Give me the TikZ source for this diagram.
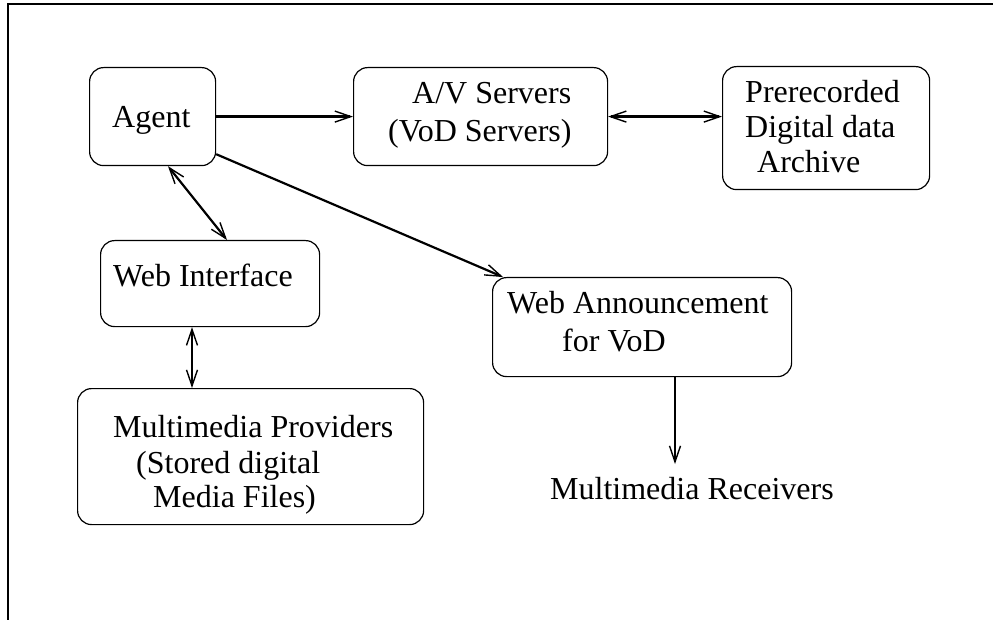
\documentclass[tikz,border=0pt]{standalone}
\usepackage{fontspec}
\setmainfont{Liberation Serif}
\usetikzlibrary{arrows.meta,calc}
\begin{document}
\begin{tikzpicture}[x=1pt,y=-1pt,
  box/.style={draw, line width=1.2, rounded corners=14, anchor=north west, inner sep=0},
  txt/.style={anchor=base west, inner sep=0, font=\fontsize{32}{38}\selectfont},
  tip/.style={Straight Barb[length=16,width=11,line width=1.4]},
  arr/.style={line width=2.2, -{Straight Barb[length=16,width=11,line width=1.4]}},
  darr/.style={line width=2.2, {Straight Barb[length=16,width=11,line width=1.4]}-{Straight Barb[length=16,width=11,line width=1.4]}}]
\useasboundingbox (0,0) rectangle (993,620);
% frame lines
\draw[line width=1.2] (8,620) -- (8,4) -- (993,4);
% boxes
\node[box, minimum width=126, minimum height=98] (agent) at (89,67) {};
\node[box, minimum width=254, minimum height=98] (av) at (353,67) {};
\node[box, minimum width=207, minimum height=123] (pre) at (722,66) {};
\node[box, minimum width=219, minimum height=86] (wi) at (100,240) {};
\node[box, minimum width=346, minimum height=136] (mp) at (77,388) {};
\node[box, minimum width=299, minimum height=99] (wa) at (492,277) {};
% texts
\node[txt] (tagent) at (112,128) {Agent};
\node[txt] (tav1) at (412,104) {A/V Servers};
\node[txt] (tav2) at (388,142) {(VoD Servers)};
\node[txt] (tpre1) at (745,103) {Prerecorded};
\node[txt] (tpre2) at (745,138) {Digital data};
\node[txt] (tpre3) at (757,173) {Archive};
\node[txt] (twi) at (113,287) {Web Interface};
\node[txt] (tmp1) at (113,437) {Multimedia Providers};
\node[txt] (tmp2) at (136,473) {(Stored digital};
\node[txt] (tmp3) at (153,507) {Media Files)};
\node[txt] (twa1) at (507,313) {Web Announcement};
\node[txt] (twa2) at (562,351) {for VoD};
\node[txt] (recv) at (550,499) {Multimedia Receivers};
% connectors
\draw[arr] (agent.east) -- (av.west);
\draw[darr] (av.east) -- (av.east -| pre.west);
\draw[darr] ($(agent.south west)+(79,0)$) -- ($(wi.north west)+(127,0)$);
\draw[arr] ($(agent.south east)+(0,-12)$) -- ($(wa.north west)+(11,0)$);
\draw[darr] ($(wi.south west)+(92,0)$) -- ($(mp.north west)+(115,0)$);
\draw[arr] ($(wa.south west)+(183,0)$) -- ($(recv.base west)+(125,-35)$);
\end{tikzpicture}
\end{document}
